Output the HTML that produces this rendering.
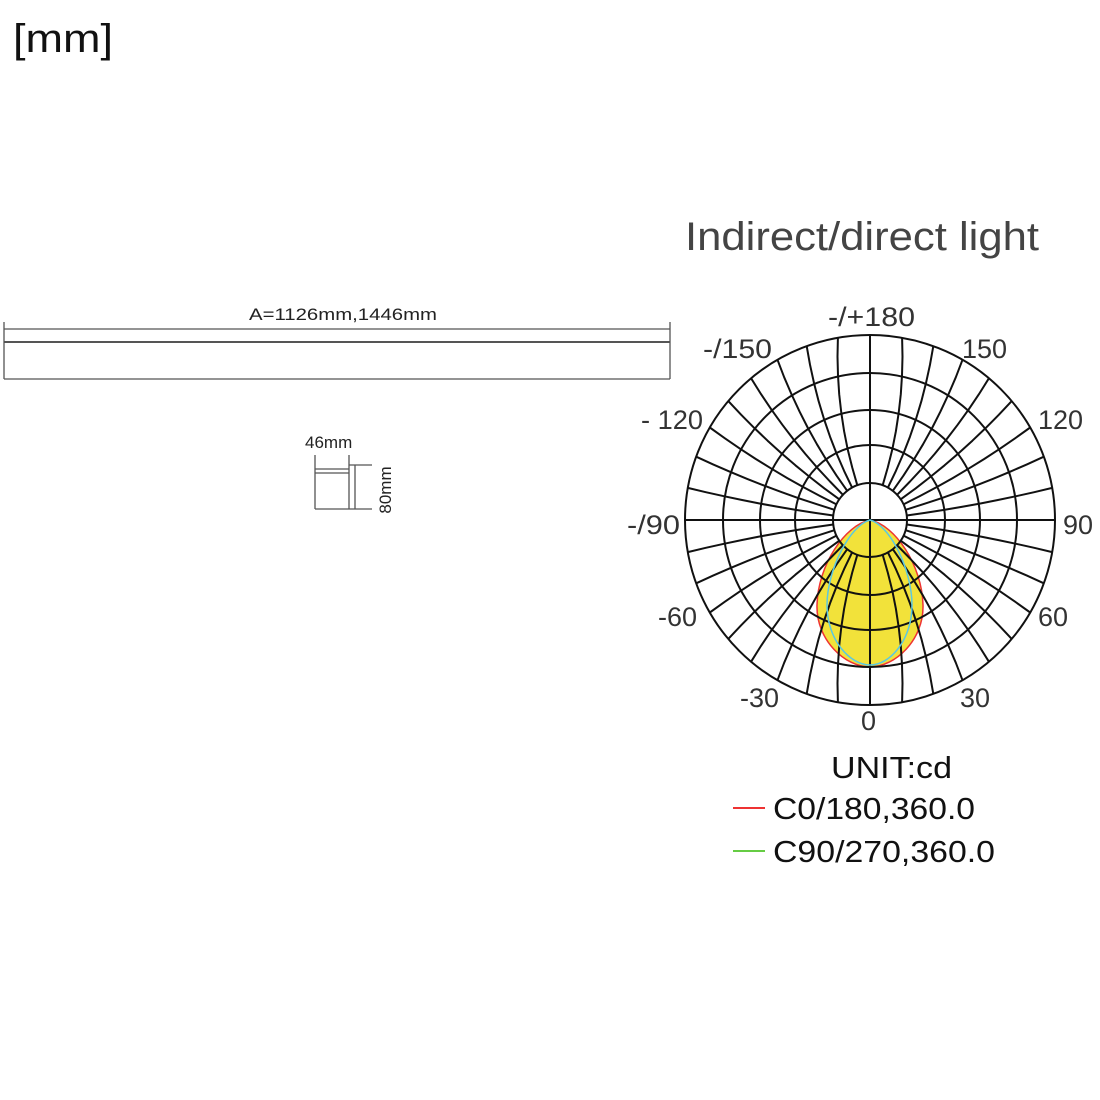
<!DOCTYPE html>
<html><head><meta charset="utf-8"><style>
html,body{margin:0;padding:0;background:#fff;}
body{width:1100px;height:1100px;position:relative;overflow:hidden;}
</style></head><body>
<svg width="1100" height="1100" viewBox="0 0 1100 1100" xmlns="http://www.w3.org/2000/svg" style="position:absolute;left:0;top:0">
<text x="13" y="52" font-family="Liberation Sans, sans-serif" font-size="40" fill="#111" textLength="100" lengthAdjust="spacingAndGlyphs">[mm]</text>
<text x="685" y="250" font-family="Liberation Sans, sans-serif" font-size="40" fill="#444" textLength="354" lengthAdjust="spacingAndGlyphs">Indirect/direct light</text>
<g stroke="#555" stroke-width="1.3" fill="none">
<line x1="4" y1="329" x2="670" y2="329"/>
<line x1="4" y1="342" x2="670" y2="342" stroke-width="2"/>
<line x1="4" y1="379" x2="670" y2="379"/>
<line x1="4" y1="322" x2="4" y2="379"/>
<line x1="670" y1="322" x2="670" y2="379"/>
<line x1="315" y1="455" x2="315" y2="509"/>
<line x1="349" y1="455" x2="349" y2="509"/>
<line x1="315" y1="469" x2="349" y2="469"/>
<line x1="315" y1="473" x2="349" y2="473"/>
<line x1="315" y1="509" x2="372" y2="509"/>
<line x1="349" y1="465" x2="372" y2="465"/>
<line x1="355" y1="465" x2="355" y2="509"/>
</g>
<text x="249" y="320" font-family="Liberation Sans, sans-serif" font-size="17" fill="#222" textLength="188" lengthAdjust="spacingAndGlyphs">A=1126mm,1446mm</text>
<text x="305" y="448" font-family="Liberation Sans, sans-serif" font-size="17" fill="#222">46mm</text>
<text transform="translate(391,490) rotate(-90)" text-anchor="middle" font-family="Liberation Sans, sans-serif" font-size="17" fill="#222">80mm</text>
<path d="M870,520 C845,525 818,565 817,605 C816,640 845,667 870,667 C895,667 924,640 923,605 C922,565 895,525 870,520 Z" fill="#f2e23a" stroke="#e33" stroke-width="1.5"/>
<g id="grid" stroke="#111" stroke-width="2" fill="none" stroke-linejoin="round"></g>
<path d="M870,520 C850,525 827,570 827,605 C827,640 850,665 870,665 C890,665 912,640 912,605 C912,570 890,525 870,520 Z" fill="none" stroke="#5cc8e0" stroke-width="1.5"/>
<g font-family="Liberation Sans, sans-serif" font-size="27" fill="#333">
<text x="828" y="326" textLength="87" lengthAdjust="spacingAndGlyphs">-/+180</text>
<text x="703" y="358" textLength="69" lengthAdjust="spacingAndGlyphs">-/150</text>
<text x="962" y="358">150</text>
<text x="641" y="429" textLength="62" lengthAdjust="spacingAndGlyphs">- 120</text>
<text x="1038" y="429">120</text>
<text x="627" y="534" textLength="53" lengthAdjust="spacingAndGlyphs">-/90</text>
<text x="1063" y="534">90</text>
<text x="658" y="626">-60</text>
<text x="1038" y="626">60</text>
<text x="740" y="707">-30</text>
<text x="960" y="707">30</text>
<text x="861" y="730">0</text>
</g>
<g font-family="Liberation Sans, sans-serif" font-size="31" fill="#111">
<text x="831" y="778" textLength="121" lengthAdjust="spacingAndGlyphs">UNIT:cd</text>
<text x="773" y="819" textLength="202" lengthAdjust="spacingAndGlyphs">C0/180,360.0</text>
<text x="773" y="862" textLength="222" lengthAdjust="spacingAndGlyphs">C90/270,360.0</text>
</g>
<line x1="733" y1="808" x2="765" y2="808" stroke="#e33" stroke-width="2"/>
<line x1="733" y1="851" x2="765" y2="851" stroke="#6c4" stroke-width="2"/>
</svg>
<script>
(function(){
var g=document.getElementById('grid'),cx=870,cy=520,s='';
var rings=[37,75,110,147,185];
rings.forEach(function(r){s+='<circle cx="'+cx+'" cy="'+cy+'" r="'+r+'"/>';});
s+='<line x1="'+(cx-185)+'" y1="'+cy+'" x2="'+(cx+185)+'" y2="'+cy+'"/>';
s+='<line x1="'+cx+'" y1="'+(cy-185)+'" x2="'+cx+'" y2="'+(cy+185)+'"/>';
var sx=[1,-1,1,-1],sy=[-1,-1,1,1];
for(var q=0;q<4;q++){
 for(var k=1;k<=8;k++){
  var beta=10*k, alpha=20+9*(k-1), pts=[];
  for(var r=37;r<=185.01;r+=18.5){
   var ang=(alpha+(beta-alpha)*(r-37)/148)*Math.PI/180;
   pts.push((cx+sx[q]*r*Math.sin(ang)).toFixed(1)+','+(cy+sy[q]*r*Math.cos(ang)).toFixed(1));
  }
  s+='<polyline points="'+pts.join(' ')+'"/>';
 }
}
g.innerHTML=s;
})();
</script>
</body></html>
